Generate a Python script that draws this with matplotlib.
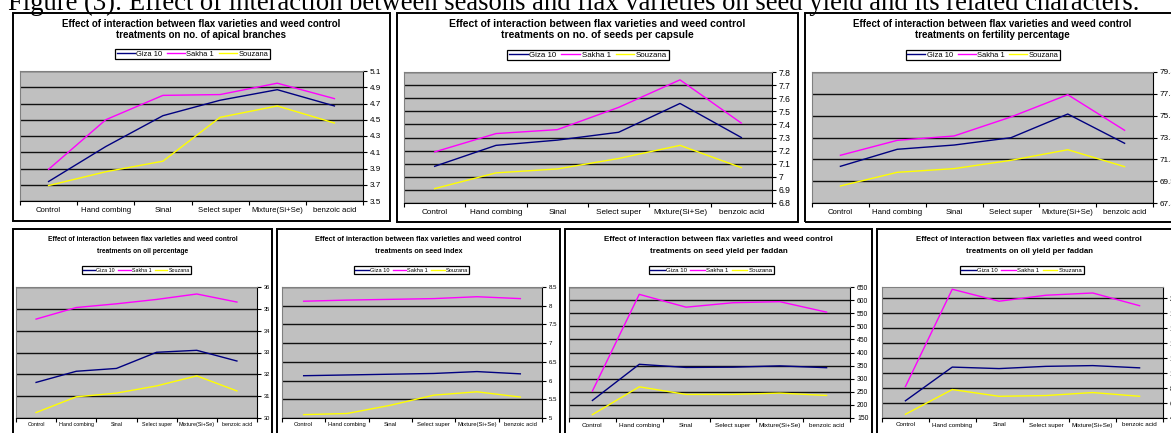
import matplotlib.pyplot as plt
from matplotlib.patches import Rectangle

W, H = 1171, 433

treatments = ["Control", "Hand combing", "Sinal", "Select super", "Mixture(Si+Se)", "benzoic acid"]
varieties = ["Giza 10", "Sakha 1", "Souzana"]
line_colors = ["#000080", "#FF00FF", "#FFFF00"]

caption = ("Figure (3): Effect of interaction between seasons and flax varieties "
           "on seed yield and its related characters.")
title_top = "Effect of interaction between flax varieties and weed control"

# values (Giza 10, Sakha 1, Souzana)
apical_giza = [3.74, 4.17, 4.55, 4.74, 4.87, 4.67]
apical_sakha = [3.89, 4.50, 4.80, 4.81, 4.95, 4.76]
apical_souzana = [3.69, 3.86, 3.99, 4.53, 4.67, 4.46]

seeds_giza = [7.08, 7.24, 7.28, 7.34, 7.56, 7.30]
seeds_sakha = [7.19, 7.33, 7.36, 7.53, 7.74, 7.41]
seeds_souzana = [6.91, 7.03, 7.06, 7.14, 7.24, 7.07]

fert_giza = [70.86, 72.42, 72.81, 73.48, 75.65, 72.97]
fert_sakha = [71.87, 73.24, 73.64, 75.38, 77.42, 74.16]
fert_souzana = [69.06, 70.31, 70.65, 71.41, 72.38, 70.83]

oil_giza = [31.63, 32.14, 32.27, 33.01, 33.10, 32.61]
oil_sakha = [34.53, 35.06, 35.23, 35.43, 35.68, 35.31]
oil_souzana = [30.25, 30.97, 31.14, 31.47, 31.93, 31.24]

index_giza = [6.13, 6.15, 6.17, 6.19, 6.24, 6.18]
index_sakha = [8.12, 8.15, 8.17, 8.19, 8.24, 8.19]
index_souzana = [5.09, 5.12, 5.34, 5.61, 5.70, 5.56]

yield_giza = [217, 355, 343, 344, 349, 342]
yield_sakha = [253, 622, 573, 590, 594, 554]
yield_souzana = [163, 269, 240, 240, 245, 236]

oilyield_giza = [63, 108, 106, 109, 110, 107]
oilyield_sakha = [82, 212, 196, 204, 207, 190]
oilyield_souzana = [45, 78, 69, 70, 74, 69]

yticks_apical = [3.5, 3.7, 3.9, 4.1, 4.3, 4.5, 4.7, 4.9, 5.1]
yticks_seeds = [6.8, 6.9, 7.0, 7.1, 7.2, 7.3, 7.4, 7.5, 7.6, 7.7, 7.8]
yticks_fert = [67.5, 69.5, 71.5, 73.5, 75.5, 77.5, 79.5]
yticks_oil = [30, 31, 32, 33, 34, 35, 36]
yticks_index = [5, 5.5, 6, 6.5, 7, 7.5, 8, 8.5]
yticks_yield = [150, 200, 250, 300, 350, 400, 450, 500, 550, 600, 650]
yticks_oilyield = [40, 60, 80, 100, 120, 140, 160, 180, 200]

FONT = "Liberation Sans"


def fig_rect(x0, y0, x1, y1):
    return [x0 / W, 1 - y1 / H, (x1 - x0) / W, (y1 - y0) / H]


def draw_panel(fig, frame, plot, subtitle, title_y, title_size, legend_y, series, yticks, ylim, s):
    fx0, fy0, fx1, fy1 = frame
    fig.add_artist(Rectangle((fx0 / W, 1 - fy1 / H), (fx1 - fx0) / W, (fy1 - fy0) / H,
                             transform=fig.transFigure, fill=False, lw=1.4, ec="black"))
    cx = (fx0 + fx1) / 2
    fig.text(cx / W, 1 - title_y[0] / H, title_top, ha="center", va="center",
             family=FONT, weight="bold", fontsize=title_size)
    fig.text(cx / W, 1 - title_y[1] / H, subtitle, ha="center", va="center",
             family=FONT, weight="bold", fontsize=title_size)

    ax = fig.add_axes(fig_rect(*plot))
    ax.set_facecolor("#C0C0C0")
    x = range(len(treatments))
    for vals, name, col in zip(series, varieties, line_colors):
        ax.plot(x, vals, color=col, lw=1.0, label=name)
    ax.set_xlim(-0.5, len(treatments) - 0.5)
    ax.set_ylim(*ylim)
    ax.set_yticks(yticks)
    ax.set_yticklabels(["%g" % v for v in yticks])
    ax.yaxis.tick_right()
    ax.grid(axis="y", color="#111111", lw=1.0)
    ax.set_axisbelow(True)
    ax.set_xticks(list(x))
    ax.set_xticklabels(treatments)
    ax.set_xticks([i - 0.5 for i in range(len(treatments) + 1)], minor=True)
    ax.tick_params(axis="x", which="major", length=0, pad=4 * s, labelsize=5.6 * s)
    ax.tick_params(axis="x", which="minor", length=3, width=0.8, direction="out")
    ax.tick_params(axis="y", length=3, width=0.8, direction="out", pad=2, labelsize=5.9 * s)
    for lab in ax.get_xticklabels() + ax.get_yticklabels():
        lab.set_family(FONT)
    for side in ("left", "top"):
        ax.spines[side].set_color("#808080")
        ax.spines[side].set_linewidth(0.8)
    for side in ("right", "bottom"):
        ax.spines[side].set_color("black")
        ax.spines[side].set_linewidth(0.8)

    leg = ax.legend(loc="center", bbox_to_anchor=((cx - 9 * s) / W, 1 - legend_y / H),
                    bbox_transform=fig.transFigure, ncol=3, fancybox=False,
                    framealpha=1, edgecolor="black", borderpad=0.2,
                    handlelength=2.4, handletextpad=0.2, columnspacing=0.6,
                    prop={"family": FONT, "size": 5.4 * s})
    leg.get_frame().set_linewidth(0.9)
    return ax


fig = plt.figure(figsize=(W / 100, H / 100), dpi=100)
fig.patch.set_facecolor("white")

fig.text(8 / W, 1 - 10 / H, caption, ha="left", va="baseline",
         family="Liberation Serif", fontsize=19.2)

top_title_y = (24, 35)
draw_panel(fig, (13, 13, 390, 221), (20, 71, 363, 201),
           "treatments on no. of apical branches", top_title_y, 7.0, 54,
           [apical_giza, apical_sakha, apical_souzana], yticks_apical, (3.5, 5.1), 1.0)
draw_panel(fig, (397, 13, 798, 222), (404, 72, 772, 203),
           "treatments on no. of seeds per capsule", top_title_y, 7.45, 55,
           [seeds_giza, seeds_sakha, seeds_souzana], yticks_seeds, (6.8, 7.8), 1.05)
draw_panel(fig, (805, 13, 1179, 222), (812, 72, 1153, 203),
           "treatments on fertility percentage", top_title_y, 7.0, 55,
           [fert_giza, fert_sakha, fert_souzana], yticks_fert, (67.5, 79.5), 1.0)

bot_title_y = (240, 251)
draw_panel(fig, (13, 229, 272, 445), (16, 287, 257, 418),
           "treatments on oil percentage", bot_title_y, 4.8, 270,
           [oil_giza, oil_sakha, oil_souzana], yticks_oil, (30, 36), 0.7)
draw_panel(fig, (277, 229, 560, 445), (282, 287, 542, 418),
           "treatments on seed index", bot_title_y, 5.2, 270,
           [index_giza, index_sakha, index_souzana], yticks_index, (5, 8.5), 0.75)
draw_panel(fig, (565, 229, 872, 445), (569, 287, 850, 418),
           "treatments on seed yield per faddan", bot_title_y, 5.75, 270,
           [yield_giza, yield_sakha, yield_souzana], yticks_yield, (150, 650), 0.82)
draw_panel(fig, (877, 229, 1181, 445), (882, 287, 1163, 418),
           "treatments on oil yield per faddan", bot_title_y, 5.7, 270,
           [oilyield_giza, oilyield_sakha, oilyield_souzana], yticks_oilyield, (40, 215), 0.81)

fig.savefig("out.png", dpi=100)
